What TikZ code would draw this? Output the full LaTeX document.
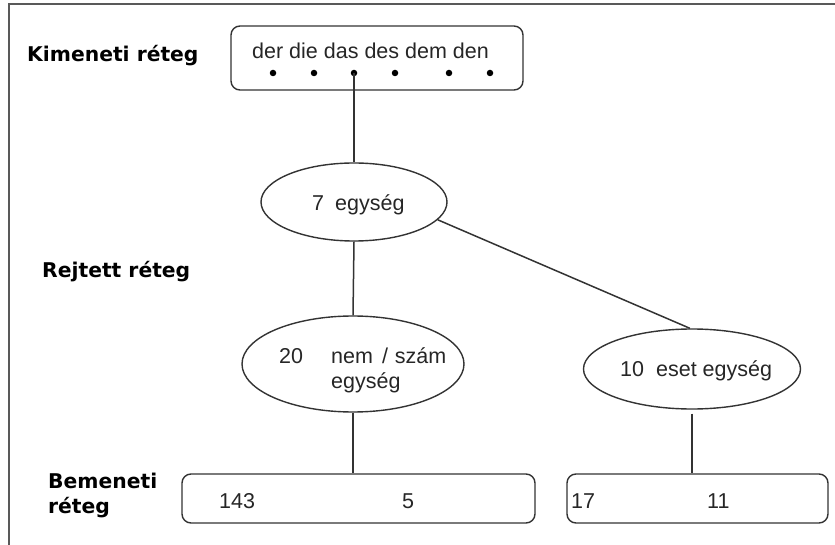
\documentclass[tikz,border=0pt]{standalone}
\usepackage{fontspec}
\setmainfont{Liberation Sans}
\newfontfamily\labfont{DejaVu Sans}
\usetikzlibrary{shapes.geometric}
\begin{document}
\begin{tikzpicture}[x=1pt,y=-1pt,
  ln/.style={line width=1.4pt, draw=black!80},
  rbox/.style={ln, rectangle, rounded corners=9pt, inner sep=0pt},
  ell/.style={ln, ellipse, inner sep=0pt},
  dotn/.style={circle, fill=black, inner sep=0pt, minimum size=6.5pt},
  txt/.style={inner sep=0pt, anchor=base west, text=black!85, font=\fontsize{21.5}{25}\selectfont},
  lab/.style={inner sep=0pt, anchor=base west, text=black, font=\labfont\bfseries\fontsize{20.3}{25}\selectfont},
  conn/.style={line width=1.5pt, draw=black!80}
]
\useasboundingbox (0,0) rectangle (835,545);
% frame
\draw[line width=1.2pt, black!65] (9,545) -- (9,4) -- (835,4);

% layer labels
\node[lab] (lout) at (27,62) {Kimeneti réteg};
\node[lab] (lhid) at (42,278) {Rejtett réteg};
\node[lab] (lin1) at (48,488) {Bemeneti};
\node[lab] (lin2) at (48,513) {réteg};

% output box
\node[rbox, minimum width=292pt, minimum height=64pt] (out) at (377,58) {};
\node[txt] (outt) at (252,59) {der die das des dem den};
\node[dotn] (d1) at (273,73) {};
\node[dotn] (d2) at (314,73) {};
\node[dotn] (d3) at (354,73) {};
\node[dotn] (d4) at (395,73) {};
\node[dotn] (d5) at (449,73) {};
\node[dotn] (d6) at (490,73) {};

% hidden units
\node[ell, minimum width=186pt, minimum height=78pt] (e7) at (354,202) {};
\node[txt] (e7t) at (312,211) {7\hspace{11pt}egység};

\node[ell, minimum width=222pt, minimum height=96pt] (e20) at (353,364) {};
\node[txt] (e20a) at (279,363) {20};
\node[txt] (e20b) at (331,363) {nem\hspace{9pt}/\hspace{7pt}szám};
\node[txt] (e20c) at (331,388) {egység};

\node[ell, minimum width=217pt, minimum height=80pt] (e10) at (692,369) {};
\node[txt] (e10t) at (620,376) {10\hspace{12pt}eset egység};

% input boxes
\node[rbox, minimum width=353pt, minimum height=49pt] (in1) at (358.5,498.5) {};
\node[txt] (n143) at (219,508) {143};
\node[txt] (n5) at (402,508) {5};
\node[rbox, minimum width=261pt, minimum height=49pt] (in2) at (697.5,498.5) {};
\node[txt] (n17) at (571,508) {17};
\node[txt] (n11) at (707,508) {11};

% connectors
\draw[conn] (d3.center) -- (e7.north);
\draw[conn] (e7.south) -- (e20.north);
\draw[conn] (e7.-12) -- (e10.93);
\draw[conn] (e20.south) -- (e20.south |- in1.north);
\coordinate (e10s) at ([yshift=-4pt]e10.south);
\draw[conn] (e10s) -- (e10s |- in2.north);
\end{tikzpicture}
\end{document}
